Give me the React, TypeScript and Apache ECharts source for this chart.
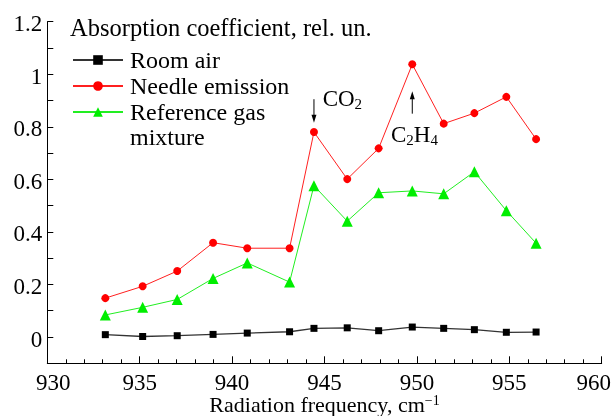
import React, { useEffect, useRef } from "react";
import * as echarts from "echarts";

const freq = [933.14, 935.16, 937.03, 938.97, 940.82, 943.11, 944.43, 946.23, 947.93, 949.75, 951.45, 953.11, 954.84, 956.45];
const roomAir = [0.009, 0.002, 0.005, 0.01, 0.015, 0.02, 0.033, 0.035, 0.024, 0.038, 0.033, 0.028, 0.018, 0.019];
const needle = [0.148, 0.193, 0.251, 0.359, 0.338, 0.338, 0.78, 0.601, 0.718, 1.038, 0.812, 0.852, 0.914, 0.753];
const refGas = [0.084, 0.113, 0.143, 0.223, 0.282, 0.209, 0.576, 0.441, 0.549, 0.556, 0.545, 0.629, 0.481, 0.357];

const seriesNames = ["Room air", "Needle emission", "Reference gas mixture"];
const xTicks = [930, 935, 940, 945, 950, 955, 960];
const yTicks = [0, 0.2, 0.4, 0.6, 0.8, 1, 1.2];
const yTickLabels = ["0", "0.2", "0.4", "0.6", "0.8", "1", "1.2"];
const yTitle = "Absorption coefficient, rel. un.";
const xTitle = "Radiation frequency, cm";

const FONT = "serif";
const RFONT = "Liberation Serif";

export default function App() {
  const ref = useRef<HTMLDivElement>(null);
  useEffect(() => {
    if (!ref.current) return;
    const chart = echarts.init(ref.current, null, { renderer: "svg" });
    const pair = (ys: number[]) => freq.map((x, i) => [x, ys[i]]);
    chart.setOption({
      animation: false,
      textStyle: { fontFamily: FONT, color: "#000" },
      title: {
        text: yTitle,
        left: 70,
        top: 15,
        padding: 0,
        textStyle: { fontFamily: FONT, fontSize: 24.5, fontWeight: "normal", color: "#000" },
      },
      legend: {
        orient: "vertical",
        left: 72,
        top: 48,
        padding: 0,
        itemGap: 2,
        itemWidth: 50,
        itemHeight: 12,
        data: seriesNames,
        formatter: (n: string) => (n === "Reference gas mixture" ? "Reference gas" : n),
        textStyle: { fontFamily: FONT, fontSize: 24, color: "#000", padding: [0, 0, 0, 2] },
      },
      grid: {
        left: 47.3,
        right: 12.3,
        top: 21.7,
        bottom: 52.7,
        containLabel: false,
        outerBoundsMode: "none",
      },
      xAxis: {
        type: "value",
        min: 930,
        max: 960,
        interval: 5,
        name: "{a|" + xTitle + "}{sup|−1}",
        nameLocation: "middle",
        nameGap: 30,
        nameTextStyle: {
          fontFamily: RFONT,
          fontSize: 22,
          color: "#000",
          lineHeight: 22,
          rich: {
            a: { fontFamily: RFONT, fontSize: 22, lineHeight: 22, color: "#000" },
            sup: { fontFamily: RFONT, fontSize: 14, lineHeight: 14, verticalAlign: "top", color: "#000" },
          },
        },
        axisLine: { show: true, onZero: false, lineStyle: { color: "#000", width: 1 } },
        axisTick: { inside: true, length: 7, lineStyle: { color: "#000" } },
        minorTick: { show: true, splitNumber: 5, length: 4, lineStyle: { color: "#000" } },
        splitLine: { show: false },
        axisLabel: { show: false },
      },
      yAxis: {
        type: "value",
        min: -0.1,
        max: 1.2,
        interval: 0.1,
        axisLine: { show: true, onZero: false, lineStyle: { color: "#000", width: 1 } },
        axisTick: { inside: true, length: 6, lineStyle: { color: "#000" } },
        splitLine: { show: false },
        axisLabel: { show: false },
      },
      series: [
        {
          name: seriesNames[0],
          type: "line",
          data: pair(roomAir),
          symbol: "rect",
          symbolSize: 7,
          itemStyle: { color: "#000" },
          lineStyle: { color: "#333", width: 1.3 },
        },
        {
          name: seriesNames[1],
          type: "line",
          data: pair(needle),
          symbol: "circle",
          symbolSize: 8,
          itemStyle: { color: "#ff0000" },
          lineStyle: { color: "#ff2020", width: 1 },
        },
        {
          name: seriesNames[2],
          type: "line",
          data: pair(refGas),
          symbol: "triangle",
          symbolSize: 11,
          itemStyle: { color: "#00ee00" },
          lineStyle: { color: "#22ee22", width: 1 },
        },
      ],
    });

    const px = (x: number, y: number) => chart.convertToPixel({ gridIndex: 0 }, [x, y]) as number[];
    const co2Top = px(944.43, 0.905);
    const co2Tip = px(944.43, 0.815);
    const c2Bot = px(949.75, 0.85);
    const c2Tip = px(949.75, 0.935);
    const co2Text = px(944.9, 0.909);
    const c2Text = px(948.6, 0.769);
    const rich = {
      sub: { fontFamily: RFONT, fontSize: 15, verticalAlign: "bottom", fill: "#000", lineHeight: 15 },
      m: { fontFamily: RFONT, fontSize: 23, fill: "#000", lineHeight: 26 },
    };
    const tickRich = { t: { fontFamily: RFONT, fontSize: 23, lineHeight: 20, fill: "#000" } };
    const bottomY = px(930, -0.1)[1];
    const leftX = px(930, 0)[0];
    const xLabels = xTicks.map((v, i) => {
      const p = px(v, -0.1);
      const shift = i === 0 ? 6 : i === xTicks.length - 1 ? -8 : 0;
      return {
        type: "text",
        x: p[0] + shift,
        y: bottomY + 19,
        style: { text: "{t|" + v + "}", rich: tickRich, align: "center", verticalAlign: "middle" },
      };
    });
    const yLabels = yTicks.map((v, i) => {
      const p = px(930, v);
      return {
        type: "text",
        x: leftX - 5,
        y: p[1] + 2,
        style: { text: "{t|" + yTickLabels[i] + "}", rich: tickRich, align: "right", verticalAlign: "middle" },
      };
    });
    chart.setOption({
      graphic: [
        ...xLabels,
        ...yLabels,
        {
          type: "text",
          left: 130,
          top: 125,
          style: { text: "mixture", fontFamily: FONT, fontSize: 24, fill: "#000" },
        },
        {
          type: "line",
          shape: { x1: co2Top[0], y1: co2Top[1], x2: co2Tip[0], y2: co2Tip[1] - 5 },
          style: { stroke: "#000", lineWidth: 1 },
        },
        {
          type: "polygon",
          shape: { points: [[co2Tip[0] - 2.5, co2Tip[1] - 8], [co2Tip[0] + 2.5, co2Tip[1] - 8], [co2Tip[0], co2Tip[1]]] },
          style: { fill: "#000" },
        },
        {
          type: "line",
          shape: { x1: c2Bot[0], y1: c2Bot[1], x2: c2Tip[0], y2: c2Tip[1] + 5 },
          style: { stroke: "#000", lineWidth: 1 },
        },
        {
          type: "polygon",
          shape: { points: [[c2Tip[0] - 2.5, c2Tip[1] + 8], [c2Tip[0] + 2.5, c2Tip[1] + 8], [c2Tip[0], c2Tip[1]]] },
          style: { fill: "#000" },
        },
        {
          type: "text",
          x: co2Text[0],
          y: co2Text[1],
          style: { text: "{m|CO}{sub|2}", rich, verticalAlign: "middle", align: "left" },
        },
        {
          type: "text",
          x: c2Text[0],
          y: c2Text[1],
          style: { text: "{m|C}{sub|2}{m|H}{sub|4}", rich, verticalAlign: "middle", align: "left" },
        },
      ],
    });
    return () => chart.dispose();
  }, []);
  return (
    <div style={{ position: "fixed", left: 0, top: 0, width: 614, height: 416 }}>
      <div ref={ref} style={{ width: 614, height: 416 }} />
    </div>
  );
}
